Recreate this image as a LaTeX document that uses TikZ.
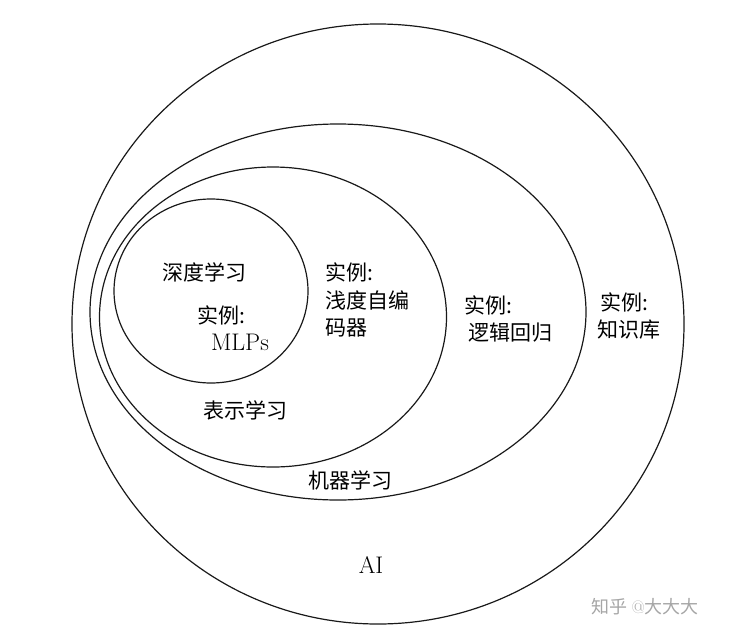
\documentclass[tikz,border=0pt]{standalone}
\usepackage{fontspec}
\newfontfamily\cjk{Noto Sans CJK SC}
\usetikzlibrary{shapes.geometric}
\tikzset{
  ring/.style={draw=black!90, line width=1.2pt, ellipse, inner sep=0pt, fill=none},
  lbl/.style={inner sep=0pt, outer sep=0pt, align=left, font=\cjk\fontsize{21}{27.5}\selectfont, text=black},
  lat/.style={font=\rmfamily\fontsize{24}{27.5}\selectfont},
  wm/.style={inner sep=0pt, font=\cjk\fontsize{18}{20}\selectfont, text=black!35}
}
\begin{document}
\begin{tikzpicture}[x=1pt,y=-1pt]
\useasboundingbox (0,0) rectangle (730,637);
\node[ring, minimum width=612pt, minimum height=600pt] (ai) at (378,324) {};
\node[ring, minimum width=496pt, minimum height=376pt] (ml) at (338,312) {};
\node[ring, minimum width=347pt, minimum height=300pt] (rl) at (273,317) {};
\node[ring, minimum width=194pt, minimum height=184pt] (dl) at (211,291) {};
\node[lbl] (tdl) at (204,272) {深度学习};
\node[lbl, anchor=west] (tmlp) at (197,328) {实例:\\[-1pt]\hspace{14pt}{\rmfamily\fontsize{24}{27.5}\selectfont MLPs}};
\node[lbl] (trl) at (245,410) {表示学习};
\node[lbl, anchor=west] (tae) at (325,300) {实例:\\浅度自编\\码器};
\node[lbl, anchor=west] (tlr) at (464,319) {实例:\\\hspace{4pt}逻辑回归};
\node[lbl, anchor=west] (tkb) at (597,316) {\hspace{3pt}实例:\\知识库};
\node[lbl] (tml) at (350,480) {机器学习};
\node[lbl, lat] (tai) at (371,565) {AI};
\node[wm] (mark) at (645,607) {知乎 {\rmfamily @}大大大};
\end{tikzpicture}
\end{document}
